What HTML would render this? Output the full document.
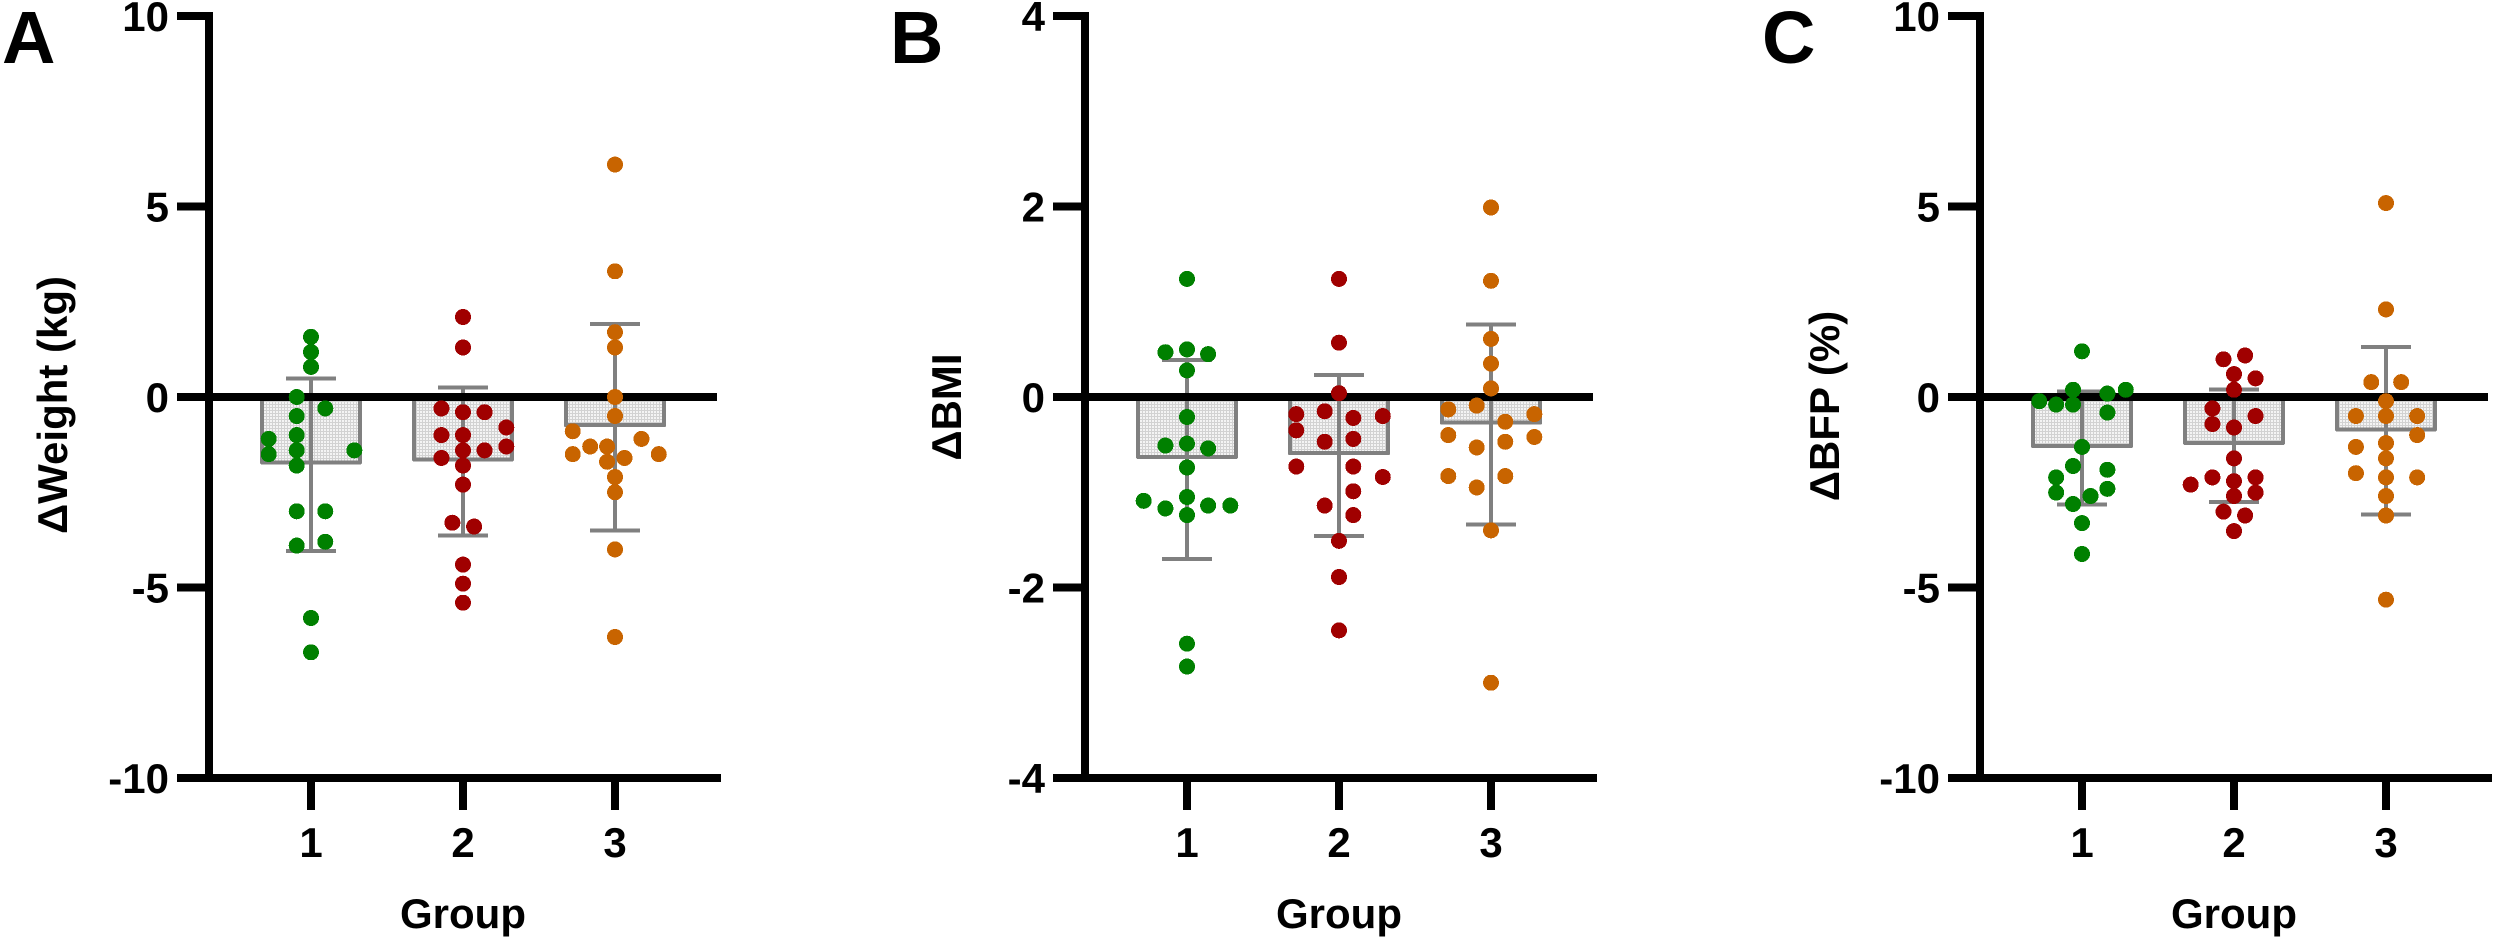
<!DOCTYPE html>
<html lang="en">
<head>
<meta charset="utf-8">
<title>Change in weight, BMI and body fat percentage by group</title>
<style>
  html, body { margin: 0; padding: 0; background: #fff; }
  body { width: 2495px; height: 941px; overflow: hidden; }
  svg { display: block; }
  text { font-family: "Liberation Sans", Arial, sans-serif; font-weight: bold; fill: #000; }
</style>
</head>
<body>
<svg id="figure" xmlns="http://www.w3.org/2000/svg" width="2495" height="941" viewBox="0 0 2495 941">
  <defs>
    <pattern id="bar-fill" patternUnits="userSpaceOnUse" width="3" height="3">
      <rect width="3" height="3" fill="#d2d2d2" shape-rendering="crispEdges"></rect>
      <rect width="2" height="2" fill="#f4f4f4" shape-rendering="crispEdges"></rect>
    </pattern>
  </defs>
</svg>
<script>
// Shared category labels
const categories = ["1", "2", "3"];
const groupColors = ["#008000", "#a00000", "#c86400"];

// Panel A: change in weight (kg)
const weightTicks = [10, 5, 0, -5, -10];
const weightMeans = [-1.72, -1.64, -0.74];
const weightErrorHigh = [0.49, 0.25, 1.91];
const weightErrorLow = [-4.04, -3.63, -3.5];
const weightGroup1 = [1.58, 1.18, 0.79, 0, -0.3, -0.5, -1, -1.1, -1.5, -1.4, -1.4, -1.8, -3, -3, -3.8, -3.9, -5.8, -6.7];
const weightGroup1Swarm = [0, 0, 0, -0.094, 0.094, -0.094, -0.094, -0.278, -0.278, -0.094, 0.285, -0.094, -0.094, 0.094, 0.094, -0.094, 0, 0];
const weightGroup2 = [2.1, 1.3, -0.3, -0.4, -0.4, -0.8, -1, -1, -1.4, -1.4, -1.3, -1.6, -1.8, -2.3, -3.3, -3.4, -4.4, -4.9, -5.4];
const weightGroup2Swarm = [0, 0, -0.142, 0, 0.142, 0.285, -0.142, 0, 0, 0.142, 0.285, -0.142, 0, 0, -0.07, 0.073, 0, 0, 0];
const weightGroup3 = [6.1, 3.3, 1.7, 1.3, 0, -0.5, -0.9, -1.1, -1.3, -1.3, -1.5, -1.7, -1.6, -1.5, -2.1, -2.5, -4, -6.3];
const weightGroup3Swarm = [0, 0, 0, 0, 0, 0, -0.278, 0.174, -0.163, -0.052, -0.278, -0.052, 0.0625, 0.288, 0, 0, 0, 0];

// Panel B: change in BMI
const bmiTicks = [4, 2, 0, -2, -4];
const bmiMeans = [-0.63, -0.59, -0.27];
const bmiErrorHigh = [0.39, 0.23, 0.76];
const bmiErrorLow = [-1.7, -1.46, -1.34];
const bmiGroup1 = [1.24, 0.47, 0.5, 0.45, 0.28, -0.21, -0.51, -0.49, -0.54, -0.74, -1.05, -1.09, -1.17, -1.14, -1.14, -1.24, -2.59, -2.83];
const bmiGroup1Swarm = [0, -0.142, 0, 0.139, 0, 0, -0.142, 0, 0.139, 0, 0, -0.285, -0.142, 0.139, 0.285, 0, 0, 0];
const bmiGroup2 = [1.24, 0.57, 0.04, -0.18, -0.15, -0.22, -0.2, -0.35, -0.47, -0.44, -0.73, -0.73, -0.84, -0.99, -1.14, -1.24, -1.51, -1.89, -2.45];
const bmiGroup2Swarm = [0, 0, 0, -0.281, -0.094, 0.094, 0.288, -0.281, -0.094, 0.094, -0.281, 0.094, 0.288, 0.094, -0.094, 0.094, 0, 0, 0];
const bmiGroup3 = [1.99, 1.22, 0.61, 0.35, 0.09, -0.13, -0.09, -0.18, -0.26, -0.4, -0.42, -0.47, -0.53, -0.83, -0.83, -0.95, -1.4, -3];
const bmiGroup3Swarm = [0, 0, 0, 0, 0, -0.281, -0.094, 0.285, 0.094, -0.281, 0.285, 0.094, -0.094, -0.281, 0.094, -0.094, 0, 0];

// Panel C: change in body fat percentage
const bfpTicks = [10, 5, 0, -5, -10];
const bfpMeans = [-1.29, -1.21, -0.85];
const bfpErrorHigh = [0.14, 0.2, 1.31];
const bfpErrorLow = [-2.82, -2.76, -3.09];
const bfpGroup1 = [1.2, 0.19, 0.19, 0.09, -0.11, -0.2, -0.2, -0.41, -1.31, -1.81, -1.91, -2.11, -2.41, -2.51, -2.6, -2.81, -3.31, -4.12];
const bfpGroup1Swarm = [0, -0.059, 0.288, 0.167, -0.281, -0.17, -0.059, 0.167, 0, -0.059, 0.167, -0.17, 0.167, -0.17, 0.056, -0.059, 0, 0];
const bfpGroup2 = [1.09, 0.99, 0.6, 0.49, 0.19, -0.3, -0.5, -0.71, -0.8, -1.61, -2.11, -2.11, -2.21, -2.3, -2.6, -2.51, -3.01, -3.11, -3.52];
const bfpGroup2Swarm = [0.073, -0.069, 0, 0.142, 0, -0.142, 0.142, -0.142, 0, 0, -0.142, 0.142, 0, -0.285, 0, 0.142, -0.069, 0.073, 0];
const bfpGroup3 = [5.09, 2.3, 0.39, 0.39, -0.11, -0.5, -0.5, -0.5, -1, -1.31, -1.21, -1.61, -2, -2.11, -2.11, -2.6, -3.11, -5.32];
const bfpGroup3Swarm = [0, 0, -0.097, 0.1, 0, -0.198, 0, 0.205, 0.205, -0.198, 0, 0, -0.198, 0, 0.205, 0, 0, 0];

const panels = [
  { key: "a", letter: "A", letterX: 2, axisX: 209, title: "\u0394Weight (kg)", titleX: 67, titleY: 405, max: 10,
    ticks: weightTicks, means: weightMeans, high: weightErrorHigh, low: weightErrorLow,
    values: [weightGroup1, weightGroup2, weightGroup3], swarm: [weightGroup1Swarm, weightGroup2Swarm, weightGroup3Swarm] },
  { key: "b", letter: "B", letterX: 890, axisX: 1085, title: "\u0394BMI", titleX: 961, titleY: 407, max: 4,
    ticks: bmiTicks, means: bmiMeans, high: bmiErrorHigh, low: bmiErrorLow,
    values: [bmiGroup1, bmiGroup2, bmiGroup3], swarm: [bmiGroup1Swarm, bmiGroup2Swarm, bmiGroup3Swarm] },
  { key: "c", letter: "C", letterX: 1762, axisX: 1980, title: "\u0394BFP (%)", titleX: 1839, titleY: 406, max: 10,
    ticks: bfpTicks, means: bfpMeans, high: bfpErrorHigh, low: bfpErrorLow,
    values: [bfpGroup1, bfpGroup2, bfpGroup3], swarm: [bfpGroup1Swarm, bfpGroup2Swarm, bfpGroup3Swarm] }
];

const SVG_NS = "http://www.w3.org/2000/svg";
const svg = document.getElementById("figure");
const TOP = 16, BOTTOM = 778, GROUP_STEP = 152, FIRST_GROUP = 102;

function make(tag, attrs, parent) {
  const el = document.createElementNS(SVG_NS, tag);
  for (const k in attrs) el.setAttribute(k, attrs[k]);
  parent.appendChild(el);
  return el;
}

panels.forEach(function (p) {
  const yScale = function (v) { return (TOP + BOTTOM) / 2 - v * (BOTTOM - TOP) / (2 * p.max); };
  const xScale = function (g) { return p.axisX + FIRST_GROUP + g * GROUP_STEP; };
  const zero = yScale(0);

  const group = make("g", {}, svg);
  
  

  const letter = make("text", { x: p.letterX, y: 63, "font-size": 74 }, group);
  letter.textContent = p.letter;
  
  

  // Bars and error bars sit under the zero line
  categories.forEach(function (cat, g) {
    const cx = xScale(g);
    const barBottom = yScale(p.means[g]);
    const bar = make("path", {
      d: "M" + (cx - 49) + " " + zero + " V" + barBottom + " H" + (cx + 49) + " V" + zero + " Z",
      fill: "url(#bar-fill)", stroke: "#808080", "stroke-width": 4, "stroke-linejoin": "round", "shape-rendering": "crispEdges"
    }, group);
    
    

    const hi = yScale(p.high[g]);
    const lo = yScale(p.low[g]);
    const err = make("path", {
      d: "M" + cx + " " + hi + " V" + lo + " M" + (cx - 25) + " " + hi + " H" + (cx + 25) + " M" + (cx - 25) + " " + lo + " H" + (cx + 25),
      fill: "none", stroke: "#808080", "stroke-width": 4, "shape-rendering": "crispEdges"
    }, group);
    
    
  });

  // Axes
  const yAxis = make("rect", { x: p.axisX - 4, y: TOP - 4, width: 8, height: BOTTOM - TOP + 8, fill: "#000" }, group);
  
  

  p.ticks.forEach(function (t) {
    const ty = yScale(t);
    const isZero = t === 0;
    const isBottom = t === p.ticks[p.ticks.length - 1];
    const end = isZero ? p.axisX + 508 : (isBottom ? p.axisX + 512 : p.axisX + 4);
    const tick = make("rect", { x: p.axisX - 32, y: ty - 4, width: end - (p.axisX - 32), height: 8, fill: "#000" }, group);
    
    

    const label = make("text", { x: p.axisX - 40, y: ty + 15, "font-size": 42, "text-anchor": "end" }, group);
    label.textContent = String(t);
    
    
  });

  categories.forEach(function (cat, g) {
    const cx = xScale(g);
    const tick = make("rect", { x: cx - 4, y: BOTTOM + 4, width: 8, height: 28, fill: "#000" }, group);
    
    

    const label = make("text", { x: cx, y: 857, "font-size": 42, "text-anchor": "middle" }, group);
    label.textContent = cat;
    
    

    // Points are drawn above the zero line
    p.values[g].forEach(function (v, i) {
      const dot = make("circle", {
        cx: cx + p.swarm[g][i] * GROUP_STEP, cy: yScale(v), r: 8,
        fill: groupColors[g], "shape-rendering": "crispEdges"
      }, group);
      
      
    });
  });

  const xTitle = make("text", { x: xScale(1), y: 928, "font-size": 42, "text-anchor": "middle" }, group);
  xTitle.textContent = "Group";
  
  

  const yTitle = make("text", {
    x: 0, y: 0, "font-size": 42, "text-anchor": "middle",
    transform: "translate(" + p.titleX + " " + p.titleY + ") rotate(-90)"
  }, group);
  yTitle.textContent = p.title;
  
  
});
</script>
</body>
</html>
